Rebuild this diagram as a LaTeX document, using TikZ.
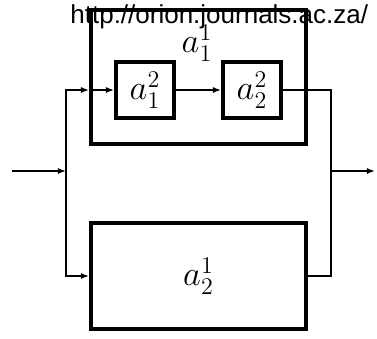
\documentclass[tikz,border=0pt]{standalone}
\usepackage{fontspec}
\newfontfamily\urlfont{Liberation Sans}
\usetikzlibrary{arrows.meta, positioning, calc}

\begin{document}
\begin{tikzpicture}[
    x=0.5pt, y=-0.5pt,
    block/.style={rectangle, draw=black, line width=2pt, inner sep=0pt,
                  font=\fontsize{17.28}{20}\selectfont},
    conn/.style={draw=black, line width=0.75pt},
    arr/.style={conn, -{Latex[length=4pt, width=3pt]}}
]
\useasboundingbox (0,0) rectangle (377,339);

% --- Outer block holding the series pair ---
\node[block, minimum width=107.5pt, minimum height=67pt] (a11) at (198.5,77) {};
\node[font=\fontsize{17.28}{20}\selectfont] (a11lab) at (197,43) {$a_1^1$};

% --- Series pair inside it ---
\node[block, minimum width=29pt, minimum height=28pt] (a12) at (145,90) {$a_1^2$};
\node[block, minimum width=29pt, minimum height=28pt] (a22) at (252,90) {$a_2^2$};

% --- Lower block ---
\node[block, minimum width=107.5pt, minimum height=53pt] (a21) at (198.5,276) {$a_2^1$};

% --- Source text ---
\node[anchor=base west, inner sep=0pt, font=\urlfont\fontsize{13}{15}\selectfont]
    (src) at (70,23) {http://orion.journals.ac.za/};

% --- Junction points ---
\coordinate (in)  at (12,171);
\coordinate (jl)  at (66,171);
\coordinate (jr)  at (331,171);
\coordinate (out) at (375,171);
\coordinate (e11) at (a11.west |- a12.west);

% --- Connectors ---
\draw[arr] (in) -- (jl);
\draw[arr] (jl) |- (e11);
\draw[arr] (e11) -- (a12);
\draw[arr] (a12) -- (a22);
\draw[conn] (a22) -| (jr);
\draw[arr] (jl) |- (a21);
\draw[conn] (a21) -| (jr);
\draw[arr] (jr) -- (out);

\end{tikzpicture}
\end{document}
